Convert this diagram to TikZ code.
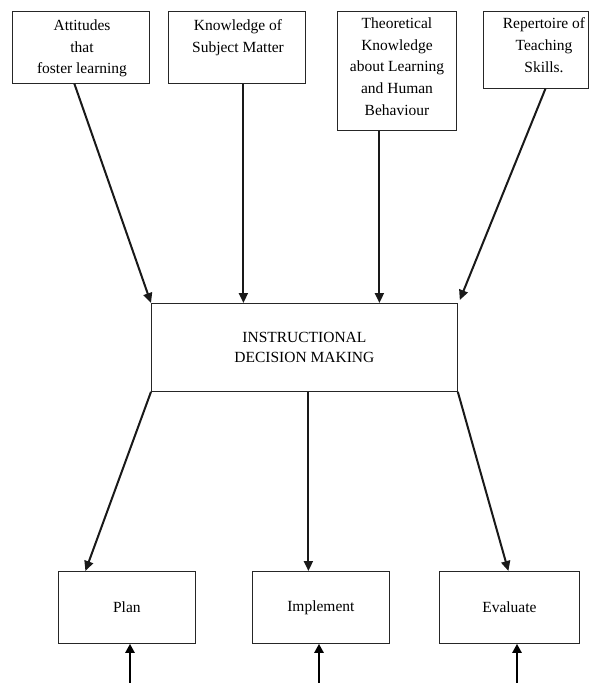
\documentclass[tikz,border=0pt]{standalone}
\usepackage{fontspec}
\setmainfont{Liberation Serif}
\usetikzlibrary{arrows.meta}
\tikzset{
  boxnode/.style={draw=black!85, line width=0.8pt, inner sep=0pt, anchor=north west},
  txt/.style={inner sep=0pt, align=center, font=\fontsize{15.5}{21.7}\selectfont},
  arr/.style={draw=black!90, line width=2pt, -{Triangle[length=10pt,width=9pt]}},
  uparr/.style={draw=black, line width=2.8pt, -{Triangle[length=9pt,width=9pt]}}
}
\begin{document}
\begin{tikzpicture}[x=1pt,y=-1pt]
\useasboundingbox (0,0) rectangle (590,683);
% top boxes
\node[boxnode, minimum width=137pt, minimum height=72pt] (b1) at (12,11) {};
\node[boxnode, minimum width=137pt, minimum height=72pt] (b2) at (168,11) {};
\node[boxnode, minimum width=119pt, minimum height=119pt] (b3) at (337,11) {};
\node[boxnode, minimum width=105pt, minimum height=77pt] (b4) at (483,11) {};
\node[txt, anchor=north] (t1) at (82,19.5) {Attitudes\\that\\foster learning};
\node[txt, anchor=north] (t2) at (238,19.5) {Knowledge of\\Subject Matter};
\node[txt, anchor=north] (t3) at (397,17.5) {Theoretical\\Knowledge\\about Learning\\and Human\\Behaviour};
\node[txt, anchor=north] (t4) at (544,17.5) {Repertoire of\\Teaching\\Skills.};
% main box
\node[boxnode, minimum width=306pt, minimum height=88pt] (main) at (151,303) {};
\node[txt, font=\fontsize{15.5}{20}\selectfont] (mt) at (main.center) {INSTRUCTIONAL\\DECISION MAKING};
% bottom boxes
\node[boxnode, minimum width=137pt, minimum height=72pt] (plan) at (58,571) {};
\node[boxnode, minimum width=137pt, minimum height=72pt] (impl) at (252,571) {};
\node[boxnode, minimum width=140pt, minimum height=72pt] (eval) at (439,571) {};
\node[txt] (pt) at (plan.center) {Plan};
\node[txt] (it) at (impl.center) {Implement};
\node[txt] (et) at (eval.center) {Evaluate};
% arrows into main
\draw[arr] ([xshift=-6.5pt]b1.south) -- (main.north west);
\draw[arr] ([xshift=6.5pt]b2.south) -- ([xshift=-61pt]main.north);
\draw[arr] ([xshift=-17.5pt]b3.south) -- ([xshift=75pt]main.north);
\draw[arr] ([xshift=9.5pt]b4.south) -- ([xshift=2pt,yshift=3pt]main.north east);
% arrows out of main
\draw[arr] (main.south west) -- ([xshift=-41.5pt]plan.north);
\draw[arr] ([xshift=4pt]main.south) -- ([xshift=-12.5pt]impl.north);
\draw[arr] (main.south east) -- ([xshift=-1pt]eval.north);
% bottom up arrows
\coordinate (c1) at (130,683);
\coordinate (c2) at (319,683);
\coordinate (c3) at (517,683);
\draw[uparr] (c1) -- (c1 |- plan.south);
\draw[uparr] (c2) -- (c2 |- impl.south);
\draw[uparr] (c3) -- (c3 |- eval.south);
\end{tikzpicture}
\end{document}
